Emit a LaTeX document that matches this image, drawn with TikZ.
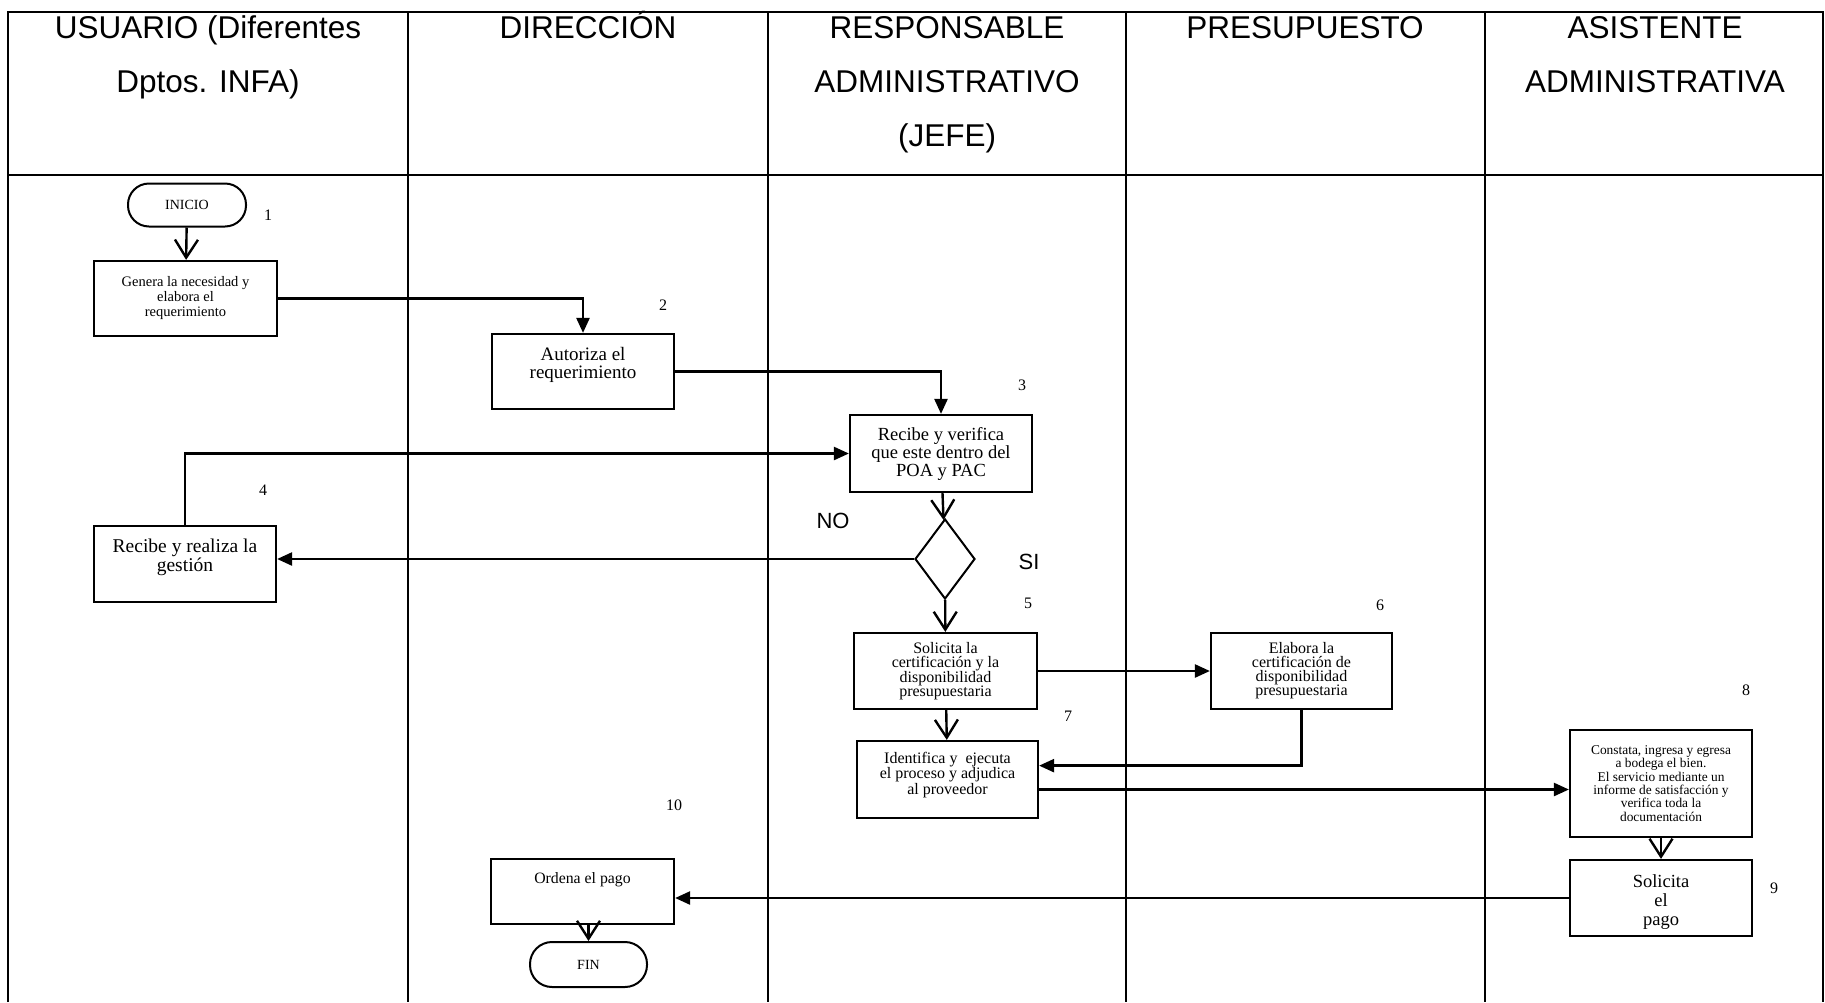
\documentclass[tikz,border=0pt]{standalone}
\usepackage{fontspec}
\setmainfont{Liberation Serif}
\newfontfamily\headfont{Liberation Sans}
\usepackage{tikz}
\usetikzlibrary{arrows.meta,shapes.geometric,calc}
\newcommand{\padbelow}[1]{\rule[-#1]{0pt}{#1}}

\begin{document}
\begin{tikzpicture}[x=1pt,y=-1pt,
	lane/.style={font=\headfont\fontsize{31.5}{54}\selectfont, align=center, anchor=north, inner sep=0pt},
	paso/.style={draw, line width=2.2pt, align=center, inner sep=0pt, minimum width=182pt, minimum height=76pt},
	term/.style={draw, line width=2pt, rounded corners=21pt, inner sep=0pt, font=\fontsize{14}{14}\selectfont},
	num/.style={font=\fontsize{16}{16}\selectfont},
	resp/.style={font=\headfont\fontsize{22}{22}\selectfont},
	flecha/.style={-{Triangle[length=15pt,width=13pt]}, line width=2.4pt},
	abierta/.style={-{Straight Barb[length=18pt,width=23pt,line width=2.4pt]}, line width=2.4pt}]
		\useasboundingbox (0,0) rectangle (1825,1002);
		\draw[line width=2pt] (8,1002)--(8,12)--(1823,12)--(1823,1002);
		\draw[line width=2pt] (8,175)--(1823,175);
		\foreach \x in {408,768,1126,1485}
			\draw[line width=2pt] (\x,12)--(\x,1002);
		\node[lane] (usuario) at (208,8) {\rule{0pt}{30pt}USUARIO (Diferentes\\Dptos. INFA)};
		\node[lane] (direccion) at (588,8) {\rule{0pt}{30pt}DIRECCIÓN};
		\node[lane] (jefe) at (947,8) {\rule{0pt}{30pt}RESPONSABLE\\ADMINISTRATIVO\\(JEFE)};
		\node[lane] (presupuesto) at (1305,8) {\rule{0pt}{30pt}PRESUPUESTO};
		\node[lane] (asistente) at (1655,8) {\rule{0pt}{30pt}ASISTENTE\\ADMINISTRATIVA};

		\node[term, minimum width=118pt, minimum height=43pt] (inicio) at (187,205) {INICIO};
		\node[paso, minimum width=183pt, minimum height=75pt, font=\fontsize{14.5}{15}\selectfont] (genera) at (185.5,298.5) {Genera la necesidad y\\elabora el\\requerimiento};
		\node[paso, minimum height=75pt, font=\fontsize{19}{18.6}\selectfont] (autoriza) at (583,371.5) {Autoriza el\\requerimiento\padbelow{17pt}};
		\node[paso, minimum height=77pt, font=\fontsize{18.5}{18}\selectfont] (verifica) at (941,453.5) {Recibe y verifica\\que este dentro del\\POA y PAC};
		\node[paso, font=\fontsize{19.5}{18.6}\selectfont] (gestion) at (185,564) {Recibe y realiza la\\gestión\padbelow{18pt}};
		\node[draw, diamond, line width=2pt, inner sep=0pt, minimum width=60pt, minimum height=80pt] (decision) at (945,559) {};
		\node[paso, minimum width=183pt, font=\fontsize{16}{14}\selectfont] (solicita) at (945.5,671) {Solicita la\\certificación y la\\disponibilidad\\presupuestaria};
		\node[paso, minimum width=181pt, font=\fontsize{16}{14}\selectfont] (elabora) at (1301.5,671) {Elabora la\\certificación de\\disponibilidad\\presupuestaria};
		\node[paso, minimum width=181pt, minimum height=77pt, font=\fontsize{16}{14}\selectfont] (identifica) at (947.5,779.5) {Identifica y\ \ ejecuta\\el proceso y adjudica\\al proveedor\padbelow{13pt}};
		\node[paso, minimum height=107pt, font=\fontsize{13.4}{13.4}\selectfont] (constata) at (1661,783.5) {Constata, ingresa y egresa\\a bodega el bien.\\El servicio mediante un\\informe de satisfacción y\\verifica toda la\\documentación};
		\node[paso, font=\fontsize{18.5}{19}\selectfont] (pago) at (1661,898) {\rule{0pt}{20pt}Solicita\\el\\pago};
		\node[paso, minimum width=183pt, minimum height=65pt, font=\fontsize{15.8}{16}\selectfont] (ordena) at (582.5,891.5) {Ordena el pago\padbelow{26pt}};
		\node[term, minimum width=117pt, minimum height=45pt, rounded corners=22pt] (fin) at (588.5,964.5) {FIN};

		\node[num] (n1) at (268,215) {1};
		\node[num] (n2) at (663,305) {2};
		\node[num] (n3) at (1022,385) {3};
		\node[num] (n4) at (263,490) {4};
		\node[num] (n5) at (1028,603) {5};
		\node[num] (n6) at (1380,605) {6};
		\node[num] (n7) at (1068,716) {7};
		\node[num] (n8) at (1746,690) {8};
		\node[num] (n9) at (1774,888) {9};
		\node[num] (n10) at (674,805) {10};
		\node[resp] (no) at (833,521) {NO};
		\node[resp] (si) at (1029,562) {SI};

		\coordinate (sale) at ($(identifica.east)+(0,10)$);
		\coordinate (entra) at ($(identifica.east)!0.35!(identifica.north east)$);
		\draw[abierta] (inicio) -- (genera);
		\draw[flecha] (genera.east) -| (autoriza.north);
		\draw[flecha] (autoriza.east) -| (verifica.north);
		\draw[flecha] (gestion.north) |- (verifica.west);
		\draw[abierta] (verifica) -- (decision);
		\draw[flecha] (decision.west) -- (decision.west -| gestion.east);
		\draw[abierta] (decision) -- (solicita);
		\draw[flecha] (solicita) -- (elabora);
		\draw[abierta] (solicita) -- (identifica);
		\draw[flecha] (elabora.south) |- (entra);
		\draw[flecha] (sale) -- (sale -| constata.west);
		\draw[abierta] (constata) -- (pago);
		\draw[flecha] (pago.west) -- (pago.west -| ordena.east);
		\draw[abierta] (ordena.south -| fin.north) -- (fin.north);
\end{tikzpicture}
\end{document}
